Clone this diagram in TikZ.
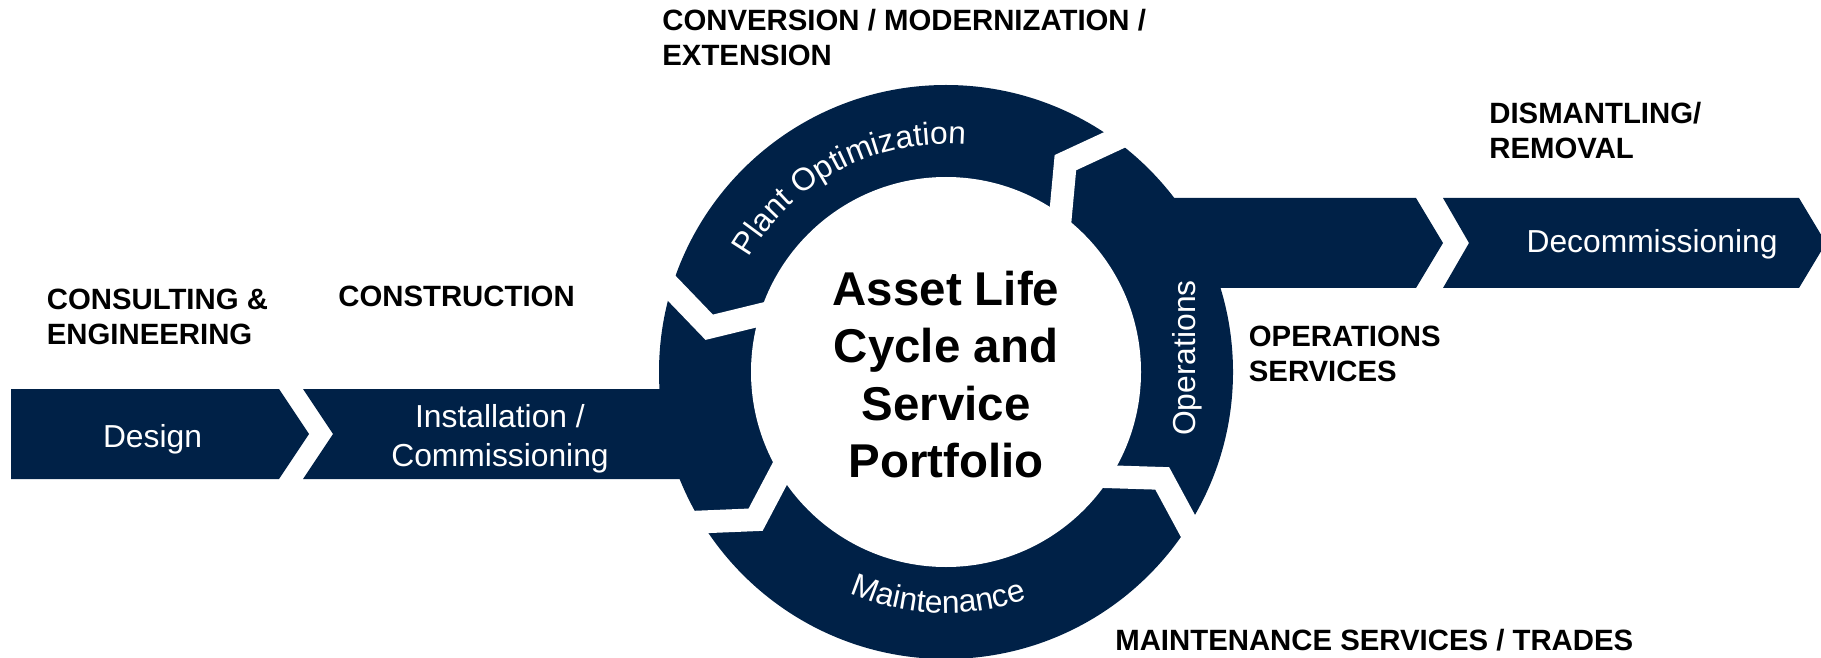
\documentclass[tikz,border=0pt]{standalone}
\usepackage{fontspec}
\setmainfont{Liberation Sans}
\usetikzlibrary{calc,decorations.text}
\definecolor{navy}{RGB}{0,33,71}
\newcommand{\wfont}{\fontsize{18.1}{22.4}\selectfont}
\newcommand{\lblfont}{\fontsize{16.7}{19.8}\selectfont\bfseries}
\newcommand{\hubfont}{\fontsize{27}{32.7}\selectfont\bfseries}
\tikzset{
  phase/.style={fill=navy},
  gapline/.style={draw=white,line width=13pt},
  wtext/.style={text=white,font=\wfont,inner sep=0pt},
  tag/.style={font=\lblfont,align=left,anchor=west,inner sep=0pt},
}

\begin{document}
\begin{tikzpicture}[x=0.02cm,y=0.02cm]
  \useasboundingbox (0,0) rectangle (1821,-658);
  \coordinate (hub) at (946,-372);

  % Left chevrons
  \fill[phase] (11,-389) -- (279,-389) -- (309,-434) -- (279,-479) -- (11,-479) -- cycle;
  \fill[phase] (303,-389) -- (730,-389) -- (730,-479) -- (303,-479) -- (333,-434) -- cycle;
  % Right chevrons
  \fill[phase] (1100,-198) -- (1416,-198) -- (1443,-243) -- (1416,-288) -- (1100,-288) -- cycle;
  \fill[phase] (1443,-198) -- (1799,-198) -- (1826,-243) -- (1799,-288) -- (1443,-288) -- (1469,-243) -- cycle;

  % Ring
  \fill[phase] (hub) circle[radius=287];
  \fill[white] (hub) circle[radius=195];

  % Gaps between ring segments
  \begin{scope}[shift={(hub)}]
    \foreach \a in {54,163,211.5,327.5} {
      \coordinate (v) at (\a+6.3:241);
      \draw[gapline] ($(v)!1.5!(\a:287)$) -- (v) -- ($(v)!1.5!(\a:195)$);
    }
  \end{scope}

  % Phase names
  \node[wtext,anchor=base] (design) at (152.5,-447.5) {Design};
  \node[wtext,align=center] (install) at (500,-438.5) {Installation /\\Commissioning};
  \node[wtext,anchor=base] (decom) at (1652,-253) {Decommissioning};
  \node[wtext,rotate=90,anchor=base] (ops) at (1195,-358) {Operations};
  \path[decorate,decoration={text along path,text={|\wfont|Plant Optimization},
      text align=center,text color=white}]
    ($(hub)+(180:228)$) arc[start angle=180,end angle=55,radius=228];
  \path[decorate,decoration={text along path,text={|\wfont|Maintenance},
      text align=center,text color=white}]
    ($(hub)+(208:241)$) arc[start angle=208,end angle=328,radius=241];

  % Centre
  \node[font=\hubfont,align=center,inner sep=0pt] (hubtext) at (946,-374.5)
    {Asset Life\\Cycle and\\Service\\Portfolio};

  % Service labels
  \node[tag] (consult) at (46.5,-317) {CONSULTING \&\\ENGINEERING};
  \node[tag] (constr) at (338,-296.4) {CONSTRUCTION};
  \node[tag] (conv) at (662,-37.7) {CONVERSION / MODERNIZATION /\\EXTENSION};
  \node[tag] (dism) at (1489,-130.7) {DISMANTLING/\\REMOVAL};
  \node[tag] (opserv) at (1248.5,-353.6) {OPERATIONS\\SERVICES};
  \node[tag] (maintserv) at (1115,-640) {MAINTENANCE SERVICES / TRADES};
\end{tikzpicture}
\end{document}
